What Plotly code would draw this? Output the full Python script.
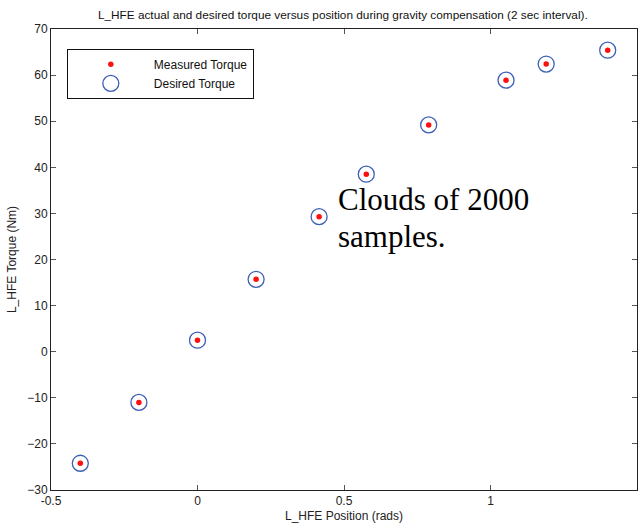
import plotly.graph_objects as go

# Data
position_rads = [-0.40, -0.20, 0.0, 0.20, 0.415, 0.576, 0.789, 1.053, 1.19, 1.40]
measured_torque = [-24.2, -11.0, 2.5, 15.7, 29.3, 38.5, 49.2, 58.9, 62.4, 65.4]
desired_torque = [-24.2, -11.0, 2.5, 15.7, 29.3, 38.5, 49.2, 58.9, 62.4, 65.4]

x_ticks = [-0.5, 0, 0.5, 1, 1.5]
x_tick_labels = ["-0.5", "0", "0.5", "1", "1.5"]
y_ticks = [-30, -20, -10, 0, 10, 20, 30, 40, 50, 60, 70]

title_text = "L_HFE actual and desired torque versus position during gravity compensation (2 sec interval)."
x_title = "L_HFE Position (rads)"
y_title = "L_HFE Torque (Nm)"
note_lines = ["Clouds of 2000", "samples."]

font_sans = "Liberation Sans, Arial, sans-serif"
font_serif = "Liberation Serif, Times New Roman, serif"

fig = go.Figure()

fig.add_trace(go.Scatter(
    x=position_rads, y=measured_torque, mode="markers",
    name="Measured Torque",
    marker=dict(symbol="circle", size=5.5, color="#ff1010", line=dict(width=0)),
))
fig.add_trace(go.Scatter(
    x=position_rads, y=desired_torque, mode="markers",
    name="Desired Torque",
    marker=dict(symbol="circle-open", size=16, color="#3d5fb5", line=dict(width=1.3, color="#3d5fb5")),
))

axis_common = dict(
    showgrid=False, zeroline=False, showline=True, linecolor="#222222", linewidth=1,
    mirror="ticks", ticks="inside", ticklen=5, tickcolor="#555555", tickwidth=1,
    tickfont=dict(family=font_sans, size=12, color="#222222"),
)

fig.update_xaxes(
    range=[-0.5, 1.5], tickmode="array", tickvals=x_ticks, ticktext=x_tick_labels,
    title=dict(text=x_title, font=dict(family=font_sans, size=12, color="#222222"), standoff=4),
    **axis_common,
)
fig.update_yaxes(
    range=[-30, 70], tickmode="array", tickvals=y_ticks,
    title=dict(text=y_title, font=dict(family=font_sans, size=12, color="#222222"), standoff=8),
    **axis_common,
)

fig.update_layout(
    width=642, height=529,
    margin=dict(l=51, r=5, t=29, b=39),
    paper_bgcolor="white", plot_bgcolor="white",
    title=dict(text=title_text, x=0.534, xanchor="center", y=0.972, yanchor="middle",
               font=dict(family=font_sans, size=11.8, color="#111111")),
    showlegend=True,
    legend=dict(
        x=0.027, y=0.957, xanchor="left", yanchor="top",
        bordercolor="#111111", borderwidth=1, bgcolor="white",
        font=dict(family=font_sans, size=12, color="#111111"),
        itemwidth=76, tracegroupgap=0,
        entrywidth=128, entrywidthmode="pixels",
    ),
)

fig.add_annotation(
    x=0.415 + 0.059, y=33.0, xref="x", yref="y", text=note_lines[0],
    showarrow=False, xanchor="left", yanchor="middle",
    font=dict(family=font_serif, size=31, color="black"),
)
fig.add_annotation(
    x=0.415 + 0.059, y=25.0, xref="x", yref="y", text=note_lines[1],
    showarrow=False, xanchor="left", yanchor="middle",
    font=dict(family=font_serif, size=31, color="black"),
)

fig.write_html("out.html")
